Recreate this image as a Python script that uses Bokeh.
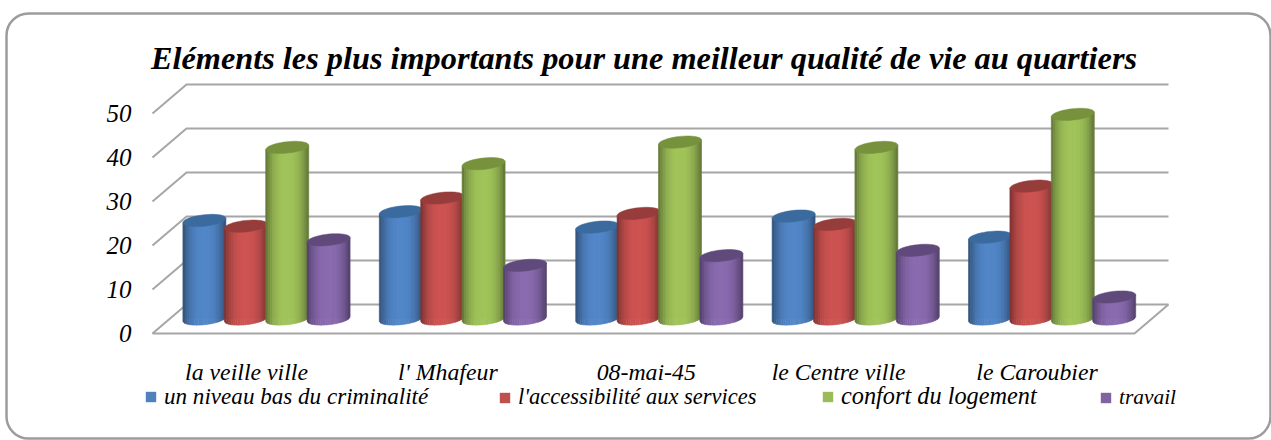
from bokeh.plotting import figure
from bokeh.models import (Range1d, FixedTicker, Legend, LegendItem, BoxAnnotation, LinearAxis, Label)
from bokeh.embed import file_html
from bokeh.resources import INLINE
import math

# ---- data
title_text = "Eléments les plus importants pour une meilleur qualité de vie au quartiers"
categories = ["la veille  ville", "l' Mhafeur", "08-mai-45", "le Centre ville", "le Caroubier"]
series_names = ["un niveau bas du criminalité", "l'accessibilité aux services", "confort du logement", "travail"]
criminalite = [22.4, 24.4, 20.9, 23.4, 18.6]
accessibilite = [21.1, 27.5, 24.0, 21.5, 30.2]
confort = [39.0, 35.3, 40.2, 39.0, 46.5]
travail = [18.0, 12.2, 14.4, 15.6, 5.0]
y_ticks = [0, 10, 20, 30, 40, 50]
label_nudge = [0.0, 0.01, 0.02, 0.0, 0.01]

series = [criminalite, accessibilite, confort, travail]
base_cols = [(82, 135, 200), (205, 84, 82), (161, 196, 90), (138, 107, 176)]
top_cols = ["#3b6a9f", "#963c3a", "#76923c", "#604a7b"]
legend_cols = ["#4f81bd", "#c0504d", "#9bbb59", "#8064a2"]
legend_x = [144, 498, 821, 1099]
legend_font = ["23.1px", "22.5px", "24.3px", "21.4px"]

# ---- layout: the frame fills the canvas; value v on the front plane sits at 333-4.4v
W, H = 1271, 440
PX_X, PX_Y = 196.4, 4.4
X0_PX, Y0_PX = 249, 333


def xd(px):
    return (px - X0_PX) / PX_X


def yd(py):
    return (Y0_PX - py) / PX_Y


p = figure(width=W, height=H, x_range=Range1d(xd(0), xd(W)), y_range=Range1d(yd(H), yd(0)), output_backend="svg",
           toolbar_location=None, x_axis_type=None, y_axis_type=None,
           min_border=0, min_border_left=0, min_border_right=0, min_border_top=0, min_border_bottom=0,
           background_fill_color="white", border_fill_color="white", outline_line_color=None)
p.grid.visible = False

FONT = "Liberation Serif"

# ---- title
p.add_layout(Label(x=xd(643.5), y=yd(57), text=title_text, text_align="center", text_baseline="middle",
                   text_font=FONT, text_font_style="bold italic", text_font_size="32.3px", text_color="black"))

# ---- axes
yax = LinearAxis(ticker=FixedTicker(ticks=y_ticks), fixed_location=xd(137), axis_line_color=None,
                 major_tick_line_color=None, minor_tick_line_color=None, major_label_text_font=FONT,
                 major_label_text_font_style="italic", major_label_text_font_size="25px",
                 major_label_text_color="black", major_label_standoff=0)
p.add_layout(yax, "left")
tick_pos = [i + n for i, n in enumerate(label_nudge)]
xax = LinearAxis(ticker=FixedTicker(ticks=tick_pos), fixed_location=yd(352), axis_line_color=None,
                 major_tick_line_color=None, minor_tick_line_color=None, major_label_text_font=FONT,
                 major_label_text_font_style="italic", major_label_text_font_size="23.8px",
                 major_label_text_color="black", major_label_standoff=0,
                 major_label_overrides={t: c for t, c in zip(tick_pos, categories)})
p.add_layout(xax, "below")

# ---- 3D walls and floor
DX, DY = 34 / PX_X, 29 / PX_Y       # depth of the box
x0, x1 = xd(152), xd(1134)
gx, gy = [], []
for v in y_ticks:
    gx.append([x0, x0 + DX, x1 + DX])
    gy.append([v, v + DY, v + DY])
gx.append([x0, x1, x1 + DX])
gy.append([0, 0, DY])
p.multi_line(gx, gy, line_color="#a6a6a6", line_width=2)

# ---- cylinders
MIDX, MIDY = DX / 2, DY / 2
STEP, BW = 41.4 / PX_X, 43 / PX_X
K, S = 0.5, 1.3      # tilt and semi-minor axis of the end ellipses (value units)
N = 19


def shade(c, u):
    f = 1 - 0.42 * abs(u) ** 2.6
    return "#%02x%02x%02x" % tuple(int(round(a * f)) for a in c)


handles = []
for s, vals in enumerate(series):
    xs_c = [i + MIDX + (s - 1.5) * STEP for i in range(len(vals))]
    tops = [v + MIDY for v in vals]
    # flat base, used by the legend swatch; covered by the shaded strips
    r = p.vbar(x=xs_c, top=tops, bottom=MIDY, width=BW * 0.9, fill_color=legend_cols[s], line_color=None)
    handles.append(r)
    sx, sy, sc = [], [], []
    for xc, top in zip(xs_c, tops):
        for j in range(N):
            u0, u1 = -1 + 2 * j / N, -1 + 2 * (j + 1) / N
            us = [u0 + (u1 - u0) * t / 3 for t in range(4)]
            low = [MIDY + K * u - S * math.sqrt(max(0, 1 - u * u)) for u in us]
            sx.append([xc + u0 * BW / 2] + [xc + u * BW / 2 for u in us] + [xc + u1 * BW / 2])
            sy.append([top + K * u0] + low + [top + K * u1])
            sc.append(shade(base_cols[s], (u0 + u1) / 2))
    p.patches(sx, sy, fill_color=sc, line_color=sc, line_width=0.6)
    ex, ey = [], []
    for xc, top in zip(xs_c, tops):
        ts = [2 * math.pi * t / 40 for t in range(40)]
        ex.append([xc + math.cos(t) * BW / 2 for t in ts])
        ey.append([top + K * math.cos(t) + S * math.sin(t) for t in ts])
    p.patches(ex, ey, fill_color=top_cols[s], line_color=top_cols[s], line_width=0.5)

# ---- legend: one block per entry, because the gaps in the reference are uneven
for name, r, lx, fs in zip(series_names, handles, legend_x, legend_font):
    leg = Legend(items=[LegendItem(label=name, renderers=[r])], location=(lx, 30), orientation="horizontal",
                 border_line_color=None, background_fill_alpha=0, padding=0, margin=0,
                 glyph_width=13, glyph_height=13, label_standoff=7,
                 label_text_font=FONT, label_text_font_style="italic", label_text_font_size=fs,
                 label_text_color="black", label_height=20)
    p.add_layout(leg, "center")

# ---- rounded chart border (screen y of a box is measured from the bottom of the canvas here)
p.add_layout(BoxAnnotation(left=6, right=1270, top=H - 13, bottom=H - 438, left_units="screen", right_units="screen",
                           top_units="screen", bottom_units="screen", fill_alpha=0, line_color="#9c9c9c",
                           line_alpha=1, line_width=2.5, border_radius=22))

open("out.html", "w").write(file_html(p, INLINE))
